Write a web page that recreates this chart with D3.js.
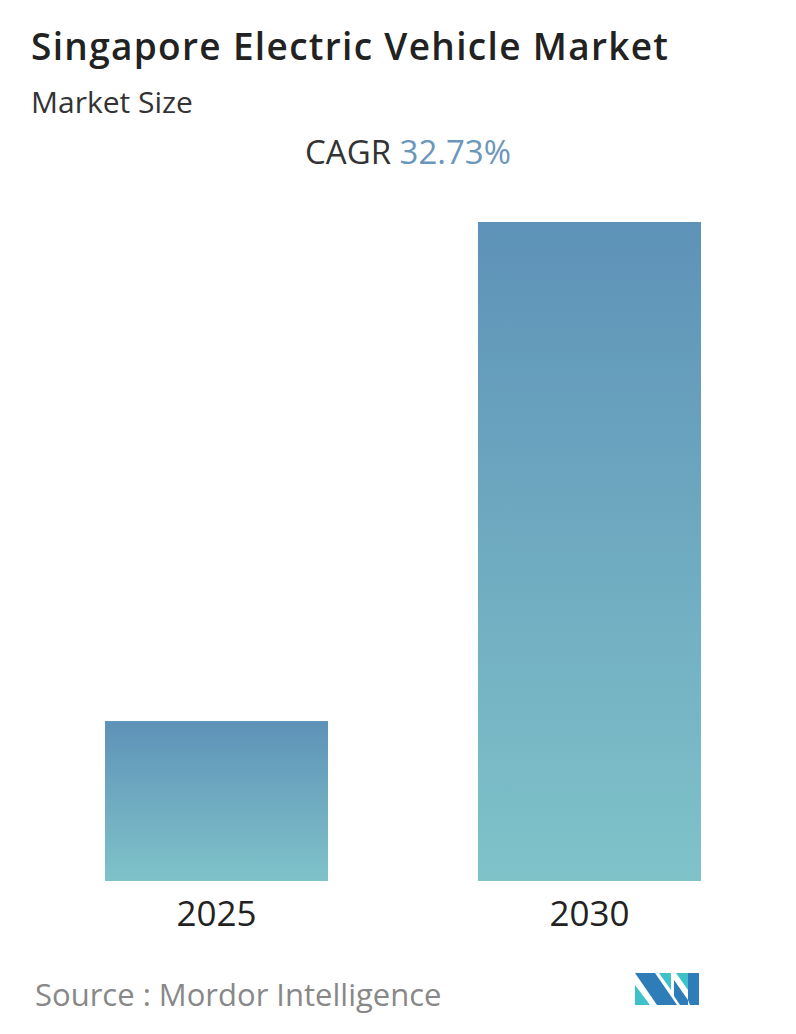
<!DOCTYPE html>
<html><head><meta charset="utf-8">
<script src="https://cdn.jsdelivr.net/npm/d3@7/dist/d3.min.js"></script>
<style>body{margin:0;background:#fff}</style></head>
<body><svg id="c" width="796" height="1034"></svg>
<script>
const categories = ["2025", "2030"];
const values = [1, 4.12];
const cagr = "32.73%";

const svg = d3.select("#c");
const font = "'Open Sans', 'Noto Sans', sans-serif";
svg.append("text").attr("x", 31).attr("y", 60).attr("font-family", font).attr("font-size", 37).attr("font-weight", 600).attr("fill", "#222").attr("textLength", 637).text("Singapore Electric Vehicle Market");
svg.append("text").attr("x", 31).attr("y", 113).attr("font-family", font).attr("font-size", 30).attr("fill", "#333").text("Market Size");
const cg = svg.append("text").attr("x", 408).attr("y", 164).attr("text-anchor", "middle").attr("font-family", font).attr("font-size", 33);
cg.append("tspan").attr("fill", "#333").text("CAGR ");
cg.append("tspan").attr("fill", "#6b97bb").text(cagr);

const defs = svg.append("defs");
const g = defs.append("linearGradient").attr("id", "gr").attr("x1", 0).attr("y1", 0).attr("x2", 0).attr("y2", 1);
g.append("stop").attr("offset", "0%").attr("stop-color", "#5e92b8");
g.append("stop").attr("offset", "100%").attr("stop-color", "#7fc3c9");

const xb = d3.scaleBand().domain(categories).range([105, 701]).paddingInner(0.402);
const y = d3.scaleLinear().domain([0, 4.12]).range([881, 222]);

svg.selectAll("rect.bar").data(values).enter().append("rect").attr("class", "bar")
  .attr("x", (d, i) => xb(categories[i])).attr("width", xb.bandwidth())
  .attr("y", d => y(d)).attr("height", d => y(0) - y(d)).attr("fill", "url(#gr)");

svg.selectAll("text.lab").data(categories).enter().append("text").attr("class", "lab")
  .attr("x", d => xb(d) + xb.bandwidth() / 2).attr("y", 926).attr("text-anchor", "middle")
  .attr("font-family", font).attr("font-size", 35).attr("fill", "#222").text(d => d);

svg.append("text").attr("x", 35).attr("y", 1006).attr("font-family", font).attr("font-size", 31).attr("fill", "#888").text("Source :  Mordor Intelligence");

const lg = svg.append("g");
lg.append("polygon").attr("points", "635,973 655,973 677,1005 657,1005 ").attr("fill", "#2e7cb8");
lg.append("polygon").attr("points", "635,985 650,1005 635,1005").attr("fill", "#3fc1c9");
lg.append("polygon").attr("points", "659,973 671,973 671,990").attr("fill", "#3fc1c9");
lg.append("polygon").attr("points", "676,973 688,973 688,990 676,973").attr("fill", "#3fc1c9");
lg.append("polygon").attr("points", "674,980 688,1000 688,1005 680,1005 674,996").attr("fill", "#2e7cb8");
lg.append("polygon").attr("points", "688,973 699,973 699,1005 690,1005 688,1000").attr("fill", "#2e7cb8");
</script></body></html>
